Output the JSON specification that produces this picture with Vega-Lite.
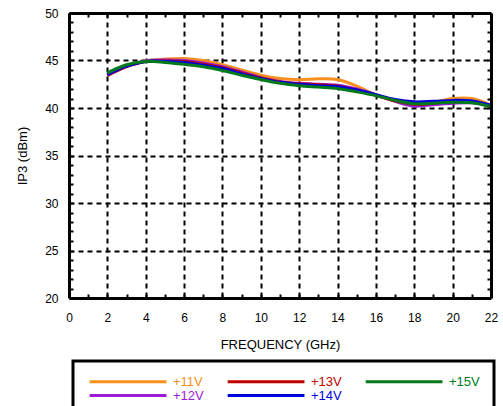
{
  "$schema": "https://vega.github.io/schema/vega-lite/v6.json",
  "width": 422,
  "height": 285,
  "autosize": {"type": "none"},
  "padding": {"left": 69, "top": 13, "right": 12, "bottom": 108},
  "background": "white",
  "config": {
    "font": "Liberation Sans",
    "view": {"stroke": null},
    "legend": {"strokeWidth": 3},
    "axis": {
      "labelFont": "Liberation Sans",
      "titleFont": "Liberation Sans",
      "labelColor": "black",
      "titleColor": "black",
      "labelFontSize": 12,
      "titleFontSize": 13,
      "titleFontWeight": "normal",
      "domainColor": "black",
      "tickColor": "black"
    }
  },
  "data": {
    "values": [
      {"f": 2, "v": 43.5, "s": "+11V"}, {"f": 3, "v": 44.4, "s": "+11V"}, {"f": 4, "v": 44.95, "s": "+11V"}, {"f": 5, "v": 45.15, "s": "+11V"}, {"f": 6, "v": 45.2, "s": "+11V"}, {"f": 7, "v": 45.0, "s": "+11V"}, {"f": 8, "v": 44.55, "s": "+11V"}, {"f": 9, "v": 44.0, "s": "+11V"}, {"f": 10, "v": 43.45, "s": "+11V"}, {"f": 11, "v": 43.1, "s": "+11V"}, {"f": 12, "v": 42.98, "s": "+11V"}, {"f": 13, "v": 43.08, "s": "+11V"}, {"f": 14, "v": 43.0, "s": "+11V"}, {"f": 15, "v": 42.3, "s": "+11V"}, {"f": 16, "v": 41.4, "s": "+11V"}, {"f": 17, "v": 40.75, "s": "+11V"}, {"f": 18, "v": 40.3, "s": "+11V"}, {"f": 19, "v": 40.6, "s": "+11V"}, {"f": 20, "v": 41.0, "s": "+11V"}, {"f": 21, "v": 41.0, "s": "+11V"}, {"f": 22, "v": 40.3, "s": "+11V"},
      {"f": 2, "v": 43.5, "s": "+12V"}, {"f": 3, "v": 44.4, "s": "+12V"}, {"f": 4, "v": 44.95, "s": "+12V"}, {"f": 5, "v": 45.05, "s": "+12V"}, {"f": 6, "v": 45.0, "s": "+12V"}, {"f": 7, "v": 44.75, "s": "+12V"}, {"f": 8, "v": 44.35, "s": "+12V"}, {"f": 9, "v": 43.8, "s": "+12V"}, {"f": 10, "v": 43.2, "s": "+12V"}, {"f": 11, "v": 42.8, "s": "+12V"}, {"f": 12, "v": 42.6, "s": "+12V"}, {"f": 13, "v": 42.5, "s": "+12V"}, {"f": 14, "v": 42.4, "s": "+12V"}, {"f": 15, "v": 42.0, "s": "+12V"}, {"f": 16, "v": 41.4, "s": "+12V"}, {"f": 17, "v": 40.7, "s": "+12V"}, {"f": 18, "v": 40.2, "s": "+12V"}, {"f": 19, "v": 40.35, "s": "+12V"}, {"f": 20, "v": 40.5, "s": "+12V"}, {"f": 21, "v": 40.55, "s": "+12V"}, {"f": 22, "v": 40.2, "s": "+12V"},
      {"f": 2, "v": 43.4, "s": "+13V"}, {"f": 3, "v": 44.35, "s": "+13V"}, {"f": 4, "v": 44.9, "s": "+13V"}, {"f": 5, "v": 44.95, "s": "+13V"}, {"f": 6, "v": 44.9, "s": "+13V"}, {"f": 7, "v": 44.6, "s": "+13V"}, {"f": 8, "v": 44.25, "s": "+13V"}, {"f": 9, "v": 43.7, "s": "+13V"}, {"f": 10, "v": 43.15, "s": "+13V"}, {"f": 11, "v": 42.75, "s": "+13V"}, {"f": 12, "v": 42.55, "s": "+13V"}, {"f": 13, "v": 42.45, "s": "+13V"}, {"f": 14, "v": 42.3, "s": "+13V"}, {"f": 15, "v": 41.9, "s": "+13V"}, {"f": 16, "v": 41.35, "s": "+13V"}, {"f": 17, "v": 40.75, "s": "+13V"}, {"f": 18, "v": 40.4, "s": "+13V"}, {"f": 19, "v": 40.5, "s": "+13V"}, {"f": 20, "v": 40.7, "s": "+13V"}, {"f": 21, "v": 40.7, "s": "+13V"}, {"f": 22, "v": 40.2, "s": "+13V"},
      {"f": 2, "v": 43.5, "s": "+14V"}, {"f": 3, "v": 44.4, "s": "+14V"}, {"f": 4, "v": 44.9, "s": "+14V"}, {"f": 5, "v": 44.9, "s": "+14V"}, {"f": 6, "v": 44.8, "s": "+14V"}, {"f": 7, "v": 44.5, "s": "+14V"}, {"f": 8, "v": 44.15, "s": "+14V"}, {"f": 9, "v": 43.6, "s": "+14V"}, {"f": 10, "v": 43.1, "s": "+14V"}, {"f": 11, "v": 42.7, "s": "+14V"}, {"f": 12, "v": 42.5, "s": "+14V"}, {"f": 13, "v": 42.35, "s": "+14V"}, {"f": 14, "v": 42.25, "s": "+14V"}, {"f": 15, "v": 41.9, "s": "+14V"}, {"f": 16, "v": 41.4, "s": "+14V"}, {"f": 17, "v": 40.9, "s": "+14V"}, {"f": 18, "v": 40.65, "s": "+14V"}, {"f": 19, "v": 40.7, "s": "+14V"}, {"f": 20, "v": 40.8, "s": "+14V"}, {"f": 21, "v": 40.75, "s": "+14V"}, {"f": 22, "v": 40.3, "s": "+14V"},
      {"f": 2, "v": 43.7, "s": "+15V"}, {"f": 3, "v": 44.55, "s": "+15V"}, {"f": 4, "v": 44.9, "s": "+15V"}, {"f": 5, "v": 44.8, "s": "+15V"}, {"f": 6, "v": 44.6, "s": "+15V"}, {"f": 7, "v": 44.35, "s": "+15V"}, {"f": 8, "v": 43.95, "s": "+15V"}, {"f": 9, "v": 43.45, "s": "+15V"}, {"f": 10, "v": 43.0, "s": "+15V"}, {"f": 11, "v": 42.6, "s": "+15V"}, {"f": 12, "v": 42.35, "s": "+15V"}, {"f": 13, "v": 42.2, "s": "+15V"}, {"f": 14, "v": 42.05, "s": "+15V"}, {"f": 15, "v": 41.7, "s": "+15V"}, {"f": 16, "v": 41.3, "s": "+15V"}, {"f": 17, "v": 40.8, "s": "+15V"}, {"f": 18, "v": 40.45, "s": "+15V"}, {"f": 19, "v": 40.5, "s": "+15V"}, {"f": 20, "v": 40.6, "s": "+15V"}, {"f": 21, "v": 40.55, "s": "+15V"}, {"f": 22, "v": 40.15, "s": "+15V"}
    ]
  },
  "resolve": {"axis": {"x": "independent", "y": "independent"}},
  "layer": [
    {
      "mark": {"type": "line", "strokeWidth": 3, "interpolate": "catmull-rom"},
      "encoding": {
        "x": {
          "field": "f", "type": "quantitative",
          "scale": {"domain": [0, 22], "nice": false, "zero": false},
          "axis": {
            "orient": "bottom", "values": [0, 2, 4, 6, 8, 10, 12, 14, 16, 18, 20, 22],
            "ticks": false, "domain": false, "grid": true, "gridColor": "black", "gridWidth": 2, "gridDash": [5, 4], "gridOpacity": 1,
            "labelPadding": 14, "labelFlush": false, "title": "FREQUENCY (GHz)", "titlePadding": 15
          }
        },
        "y": {
          "field": "v", "type": "quantitative",
          "scale": {"domain": [20, 50], "nice": false, "zero": false},
          "axis": {
            "orient": "left", "values": [20, 25, 30, 35, 40, 45, 50],
            "ticks": false, "domain": false, "grid": true, "gridColor": "black", "gridWidth": 2, "gridDash": [5, 4], "gridOpacity": 1,
            "labelPadding": 11, "labelFlush": false, "title": "IP3 (dBm)", "titlePadding": 15
          }
        },
        "color": {
          "field": "s", "type": "nominal",
          "scale": {"domain": ["+11V", "+12V", "+13V", "+14V", "+15V"], "range": ["#F7901E", "#9B1BD8", "#C00000", "#0000DD", "#007A1A"]},
          "legend": {
            "orient": "none", "legendX": 4, "legendY": 348, "title": null,
            "columns": 3, "direction": "vertical", "gridAlign": "all",
            "symbolType": "M-1,0H19", "symbolSize": 59, "symbolStrokeWidth": 3,
            "labelFont": "Liberation Sans", "labelFontSize": 13, "labelOffset": 73,
            "columnPadding": 17, "rowPadding": -5,
            "strokeColor": "black", "padding": 14, "fillColor": "white",
            "encode": {"labels": {"update": {"fill": {"scale": "color", "field": "value"}}}}
          }
        },
        "order": {"field": "f", "type": "quantitative"}
      }
    },
    {
      "mark": {"type": "line", "strokeOpacity": 0},
      "encoding": {
        "x": {
          "field": "f", "type": "quantitative",
          "scale": {"domain": [0, 22], "nice": false, "zero": false},
          "axis": {
            "orient": "bottom", "values": [1, 2, 3, 4, 5, 6, 7, 8, 9, 10, 11, 12, 13, 14, 15, 16, 17, 18, 19, 20, 21],
            "labels": false, "grid": false, "title": null, "domain": true, "domainWidth": 3, "tickSize": -4, "tickWidth": 2, "zindex": 1
          }
        },
        "y": {
          "field": "v", "type": "quantitative",
          "scale": {"domain": [20, 50], "nice": false, "zero": false},
          "axis": {
            "orient": "left", "values": [21, 22, 23, 24, 25, 26, 27, 28, 29, 30, 31, 32, 33, 34, 35, 36, 37, 38, 39, 40, 41, 42, 43, 44, 45, 46, 47, 48, 49],
            "labels": false, "grid": false, "title": null, "domain": true, "domainWidth": 3, "tickSize": -4, "tickWidth": 2, "zindex": 1
          }
        }
      }
    },
    {
      "mark": {"type": "line", "strokeOpacity": 0},
      "encoding": {
        "x": {
          "field": "f", "type": "quantitative",
          "scale": {"domain": [0, 22], "nice": false, "zero": false},
          "axis": {
            "orient": "top", "values": [1, 2, 3, 4, 5, 6, 7, 8, 9, 10, 11, 12, 13, 14, 15, 16, 17, 18, 19, 20, 21],
            "labels": false, "grid": false, "title": null, "domain": true, "domainWidth": 3, "tickSize": -4, "tickWidth": 2, "zindex": 1
          }
        },
        "y": {
          "field": "v", "type": "quantitative",
          "scale": {"domain": [20, 50], "nice": false, "zero": false},
          "axis": {
            "orient": "right", "values": [21, 22, 23, 24, 25, 26, 27, 28, 29, 30, 31, 32, 33, 34, 35, 36, 37, 38, 39, 40, 41, 42, 43, 44, 45, 46, 47, 48, 49],
            "labels": false, "grid": false, "title": null, "domain": true, "domainWidth": 3, "tickSize": -4, "tickWidth": 2, "zindex": 1
          }
        }
      }
    }
  ]
}
